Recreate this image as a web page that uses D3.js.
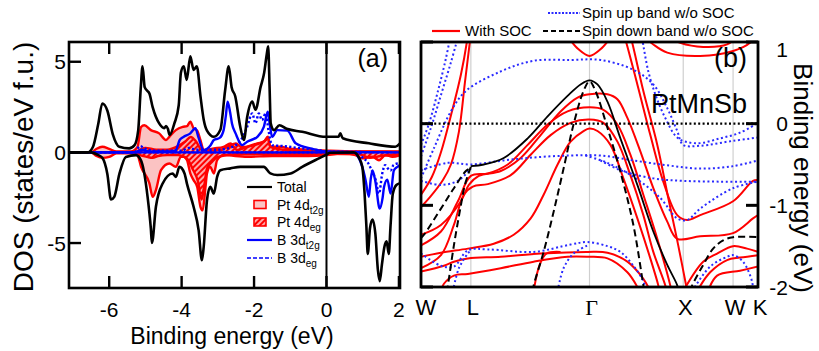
<!DOCTYPE html>
<html>
<head>
<meta charset="utf-8">
<script src="https://cdn.jsdelivr.net/npm/d3@7"></script>
<style>
  html, body { margin: 0; padding: 0; background: #fff; }
  svg { display: block; font-family: "Liberation Sans", Arial, sans-serif; }
</style>
</head>
<body>
<svg id="fig" width="819" height="351"></svg>
<script>
// ---------- (a) DOS data : [energy (eV), DOS] ----------
const totalUp = [[-7.11,0],[-6.6,0],[-6.45,0.3],[-6.3,1.6],[-6.19,2.7],[-6.05,2.3],[-5.9,1.0],[-5.72,0.31],[-5.45,0.22],[-5.3,0.4],[-5.2,1.2],[-5.13,3.5],[-5.08,4.75],[-5.02,3.6],[-4.95,3.4],[-4.89,3.25],[-4.8,2.5],[-4.62,1.6],[-4.48,1.34],[-4.43,1.45],[-4.38,1.3],[-4.33,0.96],[-4.2,1.6],[-4.08,2.6],[-4.02,4.4],[-3.94,4.75],[-3.86,4.0],[-3.76,5.3],[-3.67,4.55],[-3.58,4.75],[-3.48,3.1],[-3.39,1.8],[-3.3,1.2],[-3.11,0.86],[-2.93,1.25],[-2.8,3.4],[-2.7,4.75],[-2.62,3.6],[-2.52,3.1],[-2.38,1.4],[-2.28,0.68],[-2.19,1.95],[-2.05,2.8],[-1.96,2.35],[-1.82,3.6],[-1.72,4.4],[-1.65,5.4],[-1.61,5.85],[-1.57,3.5],[-1.54,1.6],[-1.45,1.23],[-1.3,1.5],[-1.1,1.3],[-0.67,1.14],[-0.02,0.86],[0.33,0.86],[0.38,1.05],[0.45,0.78],[1.17,0.5],[1.9,0.31],[2.03,0.5]];
const totalDown = [[-7.11,0],[-6.5,0],[-6.3,-0.15],[-6.19,-0.3],[-6.05,-1.2],[-5.95,-2.6],[-5.86,-2.45],[-5.72,-1.2],[-5.54,-0.25],[-5.26,-0.15],[-5.12,-0.45],[-4.94,-2.45],[-4.85,-4.2],[-4.82,-5.0],[-4.71,-3.0],[-4.52,-1.7],[-4.25,-1.16],[-4.16,-1.35],[-4.06,-0.8],[-3.92,-1.16],[-3.85,-1.75],[-3.67,-3.0],[-3.53,-4.3],[-3.44,-5.95],[-3.39,-5.2],[-3.3,-2.64],[-3.21,-1.9],[-3.11,-2.27],[-3.02,-1.35],[-2.93,-0.98],[-2.65,-0.88],[-2.38,-0.8],[-1.73,-0.8],[-1.55,-1.16],[-1.36,-1.25],[-0.99,-1.16],[-0.67,-0.8],[-0.21,-0.33],[0.0,-0.12],[0.1,-0.02],[0.75,0],[0.9,-0.3],[0.99,-0.8],[1.05,-2.2],[1.1,-4.0],[1.14,-5.6],[1.2,-4.2],[1.27,-3.7],[1.35,-4.5],[1.42,-6.5],[1.47,-7.1],[1.53,-6.2],[1.6,-5.2],[1.66,-4.9],[1.72,-5.6],[1.77,-4.0],[1.83,-2.3],[1.93,-1.8],[2.03,-1.7]];
const ptT2gUp = [[-7.11,0],[-6.5,0],[-6.35,0.2],[-6.19,0.31],[-6.0,0.2],[-5.8,0.05],[-5.4,0.05],[-5.22,0.3],[-5.12,1.4],[-5.03,1.5],[-4.85,1.23],[-4.62,1.05],[-4.43,0.68],[-4.34,0.86],[-4.16,1.23],[-3.97,1.41],[-3.85,1.45],[-3.76,1.7],[-3.67,1.33],[-3.57,1.2],[-3.48,0.68],[-3.39,0.13],[-3.11,0.22],[-2.84,0.31],[-2.65,0.5],[-2.47,0.13],[-2.19,0.31],[-1.91,0.5],[-1.73,0.59],[-1.62,0.86],[-1.55,0.31],[-1.27,0.31],[-1.0,0.2],[-0.5,0.15],[0,0.1],[0.8,0.05],[2.03,0.05]];
const ptT2gDown = [[-7.11,0],[-6.5,0],[-6.35,-0.2],[-6.19,-0.3],[-6.0,-0.25],[-5.8,-0.05],[-5.4,-0.05],[-5.22,-0.15],[-5.12,-0.8],[-4.89,-1.71],[-4.8,-2.45],[-4.71,-2.08],[-4.57,-0.98],[-4.34,-0.61],[-4.16,-0.8],[-4.02,-0.24],[-3.94,-0.24],[-3.85,-0.43],[-3.76,-1.16],[-3.67,-1.53],[-3.57,-1.9],[-3.48,-3.0],[-3.42,-3.2],[-3.34,-1.9],[-3.3,-1.16],[-3.21,-0.8],[-3.11,-1.16],[-3.02,-0.43],[-2.84,-0.15],[-2.19,-0.24],[-1.5,-0.2],[-0.5,-0.2],[0,-0.15],[0.5,-0.05],[0.8,-0.15],[0.99,-0.33],[1.27,-0.24],[1.45,-0.43],[1.63,-0.15],[1.82,-0.24],[2.03,-0.15]];
const ptEgUp = [[-7.11,0],[-5.3,0],[-5.15,0.15],[-5.0,0.25],[-4.7,0.15],[-4.4,0.15],[-4.1,0.35],[-3.9,0.6],[-3.75,0.85],[-3.6,0.6],[-3.45,0.15],[-3.3,0.1],[-2.9,0.15],[-2.7,0.35],[-2.5,0.5],[-2.35,0.3],[-2.1,0.35],[-1.9,0.45],[-1.7,0.65],[-1.62,0.8],[-1.55,0.3],[-1.2,0.15],[0,0.05],[2.03,0.02]];
const ptEgDown = [[-7.11,0],[-5.3,0],[-5.15,-0.15],[-4.95,-0.25],[-4.8,-0.3],[-4.65,-0.2],[-4.4,-0.15],[-4.1,-0.15],[-3.85,-0.35],[-3.7,-0.9],[-3.55,-1.6],[-3.45,-2.6],[-3.38,-1.9],[-3.3,-0.9],[-3.15,-0.5],[-3.0,-0.25],[-2.5,-0.1],[0,-0.08],[0.9,-0.1],[1.2,-0.3],[1.5,-0.2],[2.03,-0.1]];
const bT2gUp = [[-7.11,0],[-5.3,0],[-5.1,0.15],[-4.9,0.05],[-4.3,0.05],[-4.16,0.13],[-4.05,0.7],[-3.95,0.85],[-3.76,1.05],[-3.62,1.33],[-3.54,0.86],[-3.39,0.13],[-3.2,0.4],[-3.11,0.68],[-2.95,0.8],[-2.84,1.23],[-2.78,2.0],[-2.73,2.8],[-2.66,2.2],[-2.61,1.6],[-2.51,1.05],[-2.33,0.4],[-2.19,0.59],[-1.91,0.86],[-1.73,1.41],[-1.62,2.24],[-1.57,1.6],[-1.5,0.86],[-1.36,1.23],[-1.08,1.2],[-0.85,0.5],[-0.4,0.2],[0,0.05],[2.03,0]];
const bT2gDown = [[-7.11,0],[0.8,0],[0.85,-0.15],[0.99,-0.8],[1.08,-1.53],[1.17,-2.45],[1.22,-1.5],[1.27,-1.0],[1.35,-1.6],[1.47,-3.1],[1.55,-2.5],[1.59,-1.9],[1.68,-1.5],[1.77,-2.27],[1.86,-1.0],[1.96,-0.8],[2.03,-0.7]];
const bEgUp = [[-7.11,0],[-5.3,0],[-5.15,0.35],[-5.0,0.2],[-4.8,0.1],[-4.0,0.1],[-3.8,0.25],[-3.6,0.15],[-3.0,0.15],[-2.6,0.3],[-2.4,0.6],[-2.3,0.9],[-2.19,1.41],[-2.05,2.15],[-1.96,1.6],[-1.87,2.15],[-1.78,1.78],[-1.68,2.15],[-1.6,1.2],[-1.5,0.4],[-1.2,0.35],[-0.8,0.25],[-0.3,0.15],[0,0.05],[2.03,0]];
const bEgDown = [[-7.11,0],[0.9,0],[1.0,-0.3],[1.12,-0.5],[1.25,-1.0],[1.36,-1.53],[1.45,-2.27],[1.54,-1.16],[1.62,-0.7],[1.7,-0.9],[1.77,-1.0],[1.85,-0.7],[1.96,-0.61],[2.03,-0.6]];

const dosXTicks = [-6, -4, -2, 0, 2];
const dosYTicks = [5, 0, -5];

// ---------- (b) band data : [k, energy (eV)] ----------
const kLabels = ["W", "L", "Γ", "X", "W", "K"];
const kPos = [0, 0.5, 1.69, 2.63, 3.13, 3.38];
const bandYTicks = [1, 0, -1, -2];

const socBands = [
  [[0,-0.87],[0.11,-0.65],[0.2,-0.35],[0.3,0.1],[0.4,0.6],[0.46,1.0],[0.47,1.1]],
  [[0,-1.02],[0.09,-0.9],[0.22,-0.69],[0.3,-0.5],[0.38,-0.1],[0.44,0.5],[0.49,1.0],[0.5,1.1]],
  [[0,-1.36],[0.2,-1.24],[0.4,-0.95],[0.48,-0.75],[0.58,-0.64],[0.8,-0.58],[1.0,-0.42],[1.2,-0.14],[1.4,0.15],[1.57,0.32],[1.69,0.36],[1.87,0.36],[1.97,0.30],[2.07,0.07],[2.2,-0.34],[2.33,-0.79],[2.47,-1.20],[2.57,-1.41],[2.8,-1.38],[3.13,-1.34],[3.33,-1.16],[3.38,-1.12]],
  [[0,-1.49],[0.2,-1.32],[0.37,-0.95],[0.5,-0.64],[0.67,-0.61],[0.87,-0.50],[1.07,-0.26],[1.27,-0.01],[1.47,0.15],[1.69,0.20],[1.83,0.17],[1.97,-0.01],[2.1,-0.38],[2.23,-0.87],[2.37,-1.41],[2.5,-1.98],[2.52,-2.1]],
  [[0,-1.77],[0.2,-1.61],[0.33,-1.24],[0.43,-0.87],[0.52,-0.77],[0.67,-0.74],[0.9,-0.63],[1.1,-0.38],[1.3,-0.14],[1.5,0.01],[1.69,0.05],[1.83,0.01],[1.97,-0.22],[2.1,-0.63],[2.23,-1.12],[2.33,-1.57],[2.45,-1.98],[2.47,-2.1]],
  [[0,-1.63],[0.2,-1.58],[0.47,-1.53],[0.73,-1.47],[0.93,-1.36],[1.1,-1.16],[1.23,-0.87],[1.37,-0.50],[1.5,-0.22],[1.63,-0.09],[1.69,-0.06],[1.77,-0.09],[1.9,-0.26],[2.03,-0.67],[2.17,-1.16],[2.3,-1.65],[2.38,-1.98],[2.4,-2.1]],
  [[0,-1.81],[0.23,-1.74],[0.33,-1.69],[0.47,-1.65],[0.8,-1.63],[1.2,-1.59],[1.67,-1.57],[1.87,-1.58],[2.07,-1.69],[2.23,-1.90],[2.3,-2.05]],
  [[0.2,-2.05],[0.23,-1.96],[0.33,-1.86],[0.47,-1.84],[0.8,-1.77],[1.13,-1.69],[1.47,-1.63],[1.67,-1.63],[1.87,-1.65],[2.07,-1.82],[2.17,-2.0],[2.19,-2.05]],
  [[1.13,-2.05],[1.19,-1.73],[1.26,-1.59],[1.4,-1.57]],
  [[2.03,1.1],[2.05,1.03],[2.17,0.48],[2.3,-0.14],[2.43,-0.71],[2.57,-1.12],[2.67,-1.18],[2.8,-1.12],[3.13,-0.95],[3.33,-0.70],[3.38,-0.69]],
  [[2.09,1.1],[2.11,1.03],[2.23,0.40],[2.37,-0.26],[2.48,-0.91],[2.58,-1.49],[2.67,-2.05]],
  [[2.63,-2.05],[2.83,-1.69],[2.97,-1.59],[3.13,-1.50],[3.27,-1.53],[3.38,-1.57]],
  [[2.77,-2.05],[2.9,-1.82],[3.07,-1.67],[3.2,-1.64],[3.38,-1.61]],
  [[2.88,-2.05],[2.97,-1.86],[3.2,-1.80],[3.38,-1.75]],
  [[2.21,1.1],[2.33,0.97],[2.47,0.87],[2.8,0.83],[3.13,0.89],[3.3,0.99],[3.36,1.1]],
  [[2.43,1.1],[2.6,0.99],[2.83,0.94],[3.07,0.97],[3.2,1.1]],
  [[1.45,1.1],[1.58,0.91],[1.69,0.83],[1.8,0.91],[1.93,1.1]]
];
const spinUpBands = [
  [[0,-0.26],[0.08,0.0],[0.17,0.4],[0.25,0.8],[0.3,1.1]],
  [[0,-0.4],[0.1,-0.05],[0.2,0.35],[0.3,0.75],[0.38,1.1]],
  [[0,-0.67],[0.13,-0.30],[0.3,0.15],[0.45,0.40],[0.8,0.64],[1.13,0.77],[1.5,0.78],[1.8,0.78],[2.13,0.66],[2.33,0.48],[2.47,0.19],[2.57,-0.09],[2.63,-0.26],[2.8,-0.27],[3.13,-0.21],[3.38,-0.17]],
  [[2.21,1.1],[2.22,1.03],[2.28,0.64],[2.35,0.36],[2.45,0.07],[2.58,-0.18],[2.77,-0.24],[3.0,-0.18],[3.2,-0.11],[3.38,0.01]],
  [[0,-0.57],[0.27,-0.48],[0.5,-0.50],[0.83,-0.45],[1.17,-0.41],[1.5,-0.39],[1.8,-0.39],[2.13,-0.45],[2.47,-0.51],[2.8,-0.55],[3.13,-0.52],[3.38,-0.45]],
  [[0,-0.70],[0.2,-0.75],[0.37,-0.70],[0.5,-0.55]],
  [[1.65,-0.39],[1.87,-0.48],[2.13,-0.65],[2.4,-0.91],[2.57,-1.16],[2.67,-1.18],[2.8,-1.04],[3.13,-0.79],[3.38,-0.71]],
  [[1.8,-0.45],[2.0,-0.57],[2.33,-0.67],[2.63,-0.70],[3.0,-0.71],[3.38,-0.71]],
  [[0,-1.59],[0.2,-1.74],[0.33,-1.75],[0.47,-1.55],[0.67,-1.54],[1.13,-1.57],[1.5,-1.48],[1.67,-1.45],[1.87,-1.50],[2.0,-1.57],[2.13,-1.74],[2.23,-1.93],[2.25,-2.05]],
  [[0.32,-2.05],[0.38,-1.77],[0.47,-1.59],[0.5,-1.55]],
  [[1.37,-2.05],[1.43,-1.77],[1.53,-1.59],[1.67,-1.49]],
  [[2.72,-2.05],[2.9,-1.75],[3.07,-1.63],[3.13,-1.61],[3.23,-1.69],[3.32,-1.93],[3.33,-2.05]]
];
const spinDownDashed = [
  [[0,-1.40],[0.03,-1.36],[0.2,-1.04],[0.33,-0.79],[0.45,-0.58],[0.5,-0.54]],
  [[0.5,-0.53],[0.44,-0.75],[0.4,-1.0],[0.33,-1.49],[0.27,-1.98],[0.26,-2.05]],
  [[1.12,-2.05],[1.13,-1.98],[1.23,-1.57],[1.33,-1.08],[1.43,-0.55],[1.53,-0.01],[1.63,0.40],[1.69,0.52],[1.75,0.40],[1.87,-0.05],[2.0,-0.59],[2.13,-1.24],[2.23,-1.98],[2.24,-2.05]],
  [[2.7,-2.05],[2.72,-1.98],[2.83,-1.73],[2.93,-1.53],[3.03,-1.43],[3.13,-1.39],[3.38,-1.39]]
];
const spinDownSolid = [[0.5,-0.52],[0.63,-0.50],[0.83,-0.42],[1.07,-0.18],[1.27,0.09],[1.47,0.34],[1.6,0.48],[1.69,0.53],[1.77,0.48],[1.87,0.27],[2.0,-0.18],[2.17,-0.75],[2.33,-1.32],[2.47,-1.73],[2.57,-1.98],[2.58,-2.05]];

// ---------- styles ----------
const RED = "#ff0000", BLUE = "#0000ff", PINK = "#fbc3c3";

const svg = d3.select("#fig");
const defs = svg.append("defs");

// hatch for Pt 4d eg
const hatch = defs.append("pattern")
  .attr("id", "hatch").attr("patternUnits", "userSpaceOnUse")
  .attr("width", 4).attr("height", 4).attr("patternTransform", "rotate(45)");
hatch.append("rect").attr("width", 4).attr("height", 4).attr("fill", RED);
hatch.append("line").attr("x1", 1).attr("y1", 0).attr("x2", 1).attr("y2", 4)
  .attr("stroke", "#fff").attr("stroke-width", 1.3);

// ================= panel (a) =================
const A = { x0: 69, x1: 400, y0: 42, y1: 288 };
const xA = d3.scaleLinear().domain([-7.11, 2.03]).range([A.x0, A.x1]);
const yA = d3.scaleLinear().domain([-7.48, 6.09]).range([A.y1, A.y0]);

defs.append("clipPath").attr("id", "clipA").append("rect")
  .attr("x", A.x0).attr("y", A.y0).attr("width", A.x1 - A.x0).attr("height", A.y1 - A.y0);

const gA = svg.append("g").attr("clip-path", "url(#clipA)");
const areaA = d3.area().x(d => xA(d[0])).y0(yA(0)).y1(d => yA(d[1])).curve(d3.curveMonotoneX);
const lineA = d3.line().x(d => xA(d[0])).y(d => yA(d[1])).curve(d3.curveMonotoneX);

// filled Pt t2g, then hatched Pt eg
[ptT2gUp, ptT2gDown].forEach(s => gA.append("path").attr("d", areaA(s)).attr("fill", PINK));
[ptEgUp, ptEgDown].forEach(s => gA.append("path").attr("d", areaA(s)).attr("fill", "url(#hatch)"));
[ptT2gUp, ptT2gDown, ptEgUp, ptEgDown].forEach(s =>
  gA.append("path").attr("d", lineA(s)).attr("fill", "none")
    .attr("stroke", RED).attr("stroke-width", 2.4));

// B 3d curves
[bEgUp, bEgDown].forEach(s => gA.append("path").attr("d", lineA(s)).attr("fill", "none")
  .attr("stroke", BLUE).attr("stroke-width", 2.4).attr("stroke-dasharray", "2.2,2.2"));
[bT2gUp, bT2gDown].forEach(s => gA.append("path").attr("d", lineA(s)).attr("fill", "none")
  .attr("stroke", BLUE).attr("stroke-width", 2.4));

// total DOS
[totalUp, totalDown].forEach(s => gA.append("path").attr("d", lineA(s)).attr("fill", "none")
  .attr("stroke", "#000").attr("stroke-width", 2.6).attr("stroke-linejoin", "round"));

// Fermi level
svg.append("line").attr("x1", xA(0)).attr("x2", xA(0)).attr("y1", A.y0).attr("y2", A.y1)
  .attr("stroke", "#000").attr("stroke-width", 2);

// frame + inward ticks
svg.append("rect").attr("x", A.x0).attr("y", A.y0).attr("width", A.x1 - A.x0).attr("height", A.y1 - A.y0)
  .attr("fill", "none").attr("stroke", "#000").attr("stroke-width", 2.6);
dosXTicks.forEach(v => {
  svg.append("line").attr("x1", xA(v)).attr("x2", xA(v)).attr("y1", A.y1).attr("y2", A.y1 - 12)
    .attr("stroke", "#000").attr("stroke-width", 2.4);
  svg.append("line").attr("x1", xA(v)).attr("x2", xA(v)).attr("y1", A.y0).attr("y2", A.y0 + 12)
    .attr("stroke", "#000").attr("stroke-width", 2.4);
  svg.append("text").attr("x", xA(v)).attr("y", 317).attr("text-anchor", "middle")
    .attr("font-size", 21).text(v);
});
dosYTicks.forEach(v => {
  svg.append("line").attr("x1", A.x0).attr("x2", A.x0 + 12).attr("y1", yA(v)).attr("y2", yA(v))
    .attr("stroke", "#000").attr("stroke-width", 2.4);
  svg.append("text").attr("x", 66).attr("y", yA(v) + 7.5).attr("text-anchor", "end")
    .attr("font-size", 21).text(v);
});

svg.append("text").attr("x", 232).attr("y", 344).attr("text-anchor", "middle")
  .attr("font-size", 23).text("Binding energy (eV)");
svg.append("text").attr("transform", "translate(33,167) rotate(-90)").attr("text-anchor", "middle")
  .attr("font-size", 28).text("DOS (states/eV f.u.)");
svg.append("text").attr("x", 388).attr("y", 67).attr("text-anchor", "end")
  .attr("font-size", 25).text("(a)");

// legend (a)
const legA = svg.append("g").attr("font-size", 14);
const legRows = [
  { y: 187, kind: "line", dash: null, color: "#000", main: "Total", sub: "" },
  { y: 204.5, kind: "box", fill: PINK, main: "Pt 4d", sub: "t2g" },
  { y: 222, kind: "box", fill: "url(#hatch)", main: "Pt 4d", sub: "eg" },
  { y: 240, kind: "line", dash: null, color: BLUE, main: "B 3d", sub: "t2g" },
  { y: 258, kind: "line", dash: "4,2", color: BLUE, main: "B 3d", sub: "eg" }
];
legRows.forEach(r => {
  if (r.kind === "line") {
    legA.append("line").attr("x1", 247).attr("x2", 272).attr("y1", r.y).attr("y2", r.y)
      .attr("stroke", r.color).attr("stroke-width", r.dash ? 1.4 : 2.2)
      .attr("stroke-dasharray", r.dash);
  } else {
    legA.append("rect").attr("x", 254).attr("y", r.y - 4).attr("width", 12).attr("height", 8)
      .attr("fill", r.fill).attr("stroke", RED).attr("stroke-width", 1.6);
  }
  const t = legA.append("text").attr("x", 277).attr("y", r.y + 5).text(r.main);
  if (r.sub) t.append("tspan").attr("font-size", 10).attr("dy", 4).text(r.sub);
});

// ================= panel (b) =================
const B = { x0: 421, x1: 758, y0: 42, y1: 287 };
const xB = d3.scaleLinear().domain([0, 3.38]).range([B.x0, B.x1]);
const yB = d3.scaleLinear().domain([-2, 1]).range([B.y1, B.y0]);

defs.append("clipPath").attr("id", "clipB").append("rect")
  .attr("x", B.x0).attr("y", B.y0).attr("width", B.x1 - B.x0).attr("height", B.y1 - B.y0);

const gB = svg.append("g").attr("clip-path", "url(#clipB)");
const lineB = d3.line().x(d => xB(d[0])).y(d => yB(d[1])).curve(d3.curveCatmullRom.alpha(0.5));

// high symmetry lines
kPos.slice(1, -1).forEach(k => gB.append("line")
  .attr("x1", xB(k)).attr("x2", xB(k)).attr("y1", B.y0).attr("y2", B.y1)
  .attr("stroke", "#cfcfcf").attr("stroke-width", 1.2));

socBands.forEach(b => gB.append("path").attr("d", lineB(b)).attr("fill", "none")
  .attr("stroke", RED).attr("stroke-width", 2));
spinUpBands.forEach(b => gB.append("path").attr("d", lineB(b)).attr("fill", "none")
  .attr("stroke", "#2a2aff").attr("stroke-width", 2).attr("stroke-dasharray", "2,2.6"));
spinDownDashed.forEach(b => gB.append("path").attr("d", lineB(b)).attr("fill", "none")
  .attr("stroke", "#000").attr("stroke-width", 2).attr("stroke-dasharray", "7,4"));
gB.append("path").attr("d", lineB(spinDownSolid)).attr("fill", "none")
  .attr("stroke", "#000").attr("stroke-width", 1.8);

// Fermi level
gB.append("line").attr("x1", B.x0).attr("x2", B.x1).attr("y1", yB(0)).attr("y2", yB(0))
  .attr("stroke", "#000").attr("stroke-width", 2.2).attr("stroke-dasharray", "2,2.4");

svg.append("rect").attr("x", B.x0).attr("y", B.y0).attr("width", B.x1 - B.x0).attr("height", B.y1 - B.y0)
  .attr("fill", "none").attr("stroke", "#000").attr("stroke-width", 2.8);

bandYTicks.forEach(v => {
  [[B.x0, B.x0 + 12], [B.x1, B.x1 - 12]].forEach(([a, b]) =>
    svg.append("line").attr("x1", a).attr("x2", b).attr("y1", yB(v)).attr("y2", yB(v))
      .attr("stroke", "#000").attr("stroke-width", 3));
  svg.append("text").attr("x", 788).attr("y", Math.max(yB(v), B.y0 + 7) + 7.5)
    .attr("text-anchor", "end").attr("font-size", 21).text(v);
});

kLabels.forEach((lab, i) => {
  svg.append("text").attr("x", xB(kPos[i]) + (i === 0 ? 5 : 2)).attr("y", 315)
    .attr("text-anchor", "middle").attr("font-size", 22)
    .attr("font-family", lab === "Γ" ? "'Liberation Serif', serif" : null)
    .text(lab);
});

svg.append("text").attr("transform", "translate(794,178) rotate(90)").attr("text-anchor", "middle")
  .attr("font-size", 26).text("Binding energy (eV)");
svg.append("text").attr("x", 747).attr("y", 67).attr("text-anchor", "end")
  .attr("font-size", 27).text("(b)");
svg.append("text").attr("x", 747).attr("y", 113).attr("text-anchor", "end")
  .attr("font-size", 27).text("PtMnSb");

// legend (b)
const legB = svg.append("g").attr("font-size", 15);
legB.append("line").attr("x1", 432).attr("x2", 460).attr("y1", 31).attr("y2", 31)
  .attr("stroke", RED).attr("stroke-width", 2.2);
legB.append("text").attr("x", 465).attr("y", 36).text("With SOC");
legB.append("line").attr("x1", 548).attr("x2", 580).attr("y1", 13).attr("y2", 13)
  .attr("stroke", "#2a2aff").attr("stroke-width", 2).attr("stroke-dasharray", "2,1.5");
legB.append("text").attr("x", 582).attr("y", 18).text("Spin up band w/o SOC");
legB.append("line").attr("x1", 543).attr("x2", 580).attr("y1", 31).attr("y2", 31)
  .attr("stroke", "#000").attr("stroke-width", 2).attr("stroke-dasharray", "5,3");
legB.append("text").attr("x", 582).attr("y", 36).text("Spin down band w/o SOC");
</script>
</body>
</html>
